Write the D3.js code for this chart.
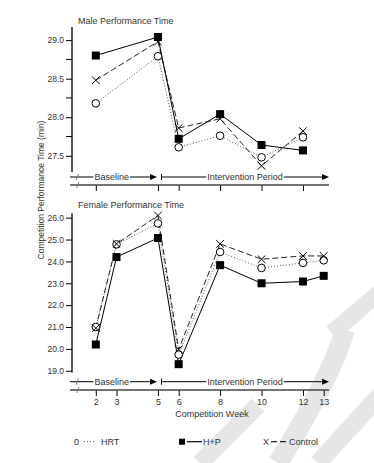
<!DOCTYPE html>
<html><head><meta charset="utf-8">
<script src="https://cdn.jsdelivr.net/npm/d3@7"></script>
<style>
html,body{margin:0;padding:0;background:#fff;}
text{font-family:"Liberation Sans",Arial,sans-serif;fill:#333;}
</style></head>
<body>
<svg id="c" width="374" height="463"></svg>
<script>
// ---- data ----
const maleWeeks = [2, 5, 6, 8, 10, 12];
const maleHRT = [28.18, 28.79, 27.61, 27.76, 27.48, 27.74];
const maleHP = [28.80, 29.04, 27.72, 28.04, 27.64, 27.57];
const maleControl = [28.48, 28.98, 27.86, 27.98, 27.37, 27.82];

const femaleWeeks = [2, 3, 5, 6, 8, 10, 12, 13];
const femaleHRT = [21.0, 24.78, 25.74, 19.74, 24.43, 23.70, 23.93, 24.05];
const femaleHP = [20.2, 24.2, 25.07, 19.3, 23.83, 23.0, 23.08, 23.34];
const femaleControl = [20.95, 24.8, 26.1, 19.97, 24.8, 24.1, 24.25, 24.25];

const maleMajorTicks = [27.5, 28.0, 28.5, 29.0];
const maleMinorTicks = [27.75, 28.25, 28.75];
const femaleTicks = [19, 20, 21, 22, 23, 24, 25, 26];

const seriesNames = ["HRT", "H+P", "Control"];
const legendSymbols = ["0", "■", "X"];
const periodLabels = ["Baseline", "Intervention Period"];

const svg = d3.select("#c");

// ---- watermark (light background shapes) ----
const wm = svg.append("g").attr("stroke", "#e6e6e6").attr("stroke-linecap", "butt").attr("fill", "none");
wm.append("line").attr("x1", 380).attr("y1", 292).attr("x2", 332).attr("y2", 333).attr("stroke-width", 17);
wm.append("path").attr("d", "M 345 330 Q 330 380 278 463").attr("stroke-width", 20);
wm.append("line").attr("x1", 380).attr("y1", 395).attr("x2", 318).attr("y2", 463).attr("stroke-width", 18);
wm.append("line").attr("x1", 200).attr("y1", 463).attr("x2", 258).attr("y2", 405).attr("stroke-width", 18);

// ---- x scale ----
const x = d3.scaleLinear().domain([2, 13]).range([95.8, 323.7]);

// ---- y scales ----
const yM = d3.scaleLinear().domain([27.29, 29.17]).range([172, 27]);
const yF = d3.scaleLinear().domain([18.92, 26.2]).range([372.5, 213.3]);

const axisX = 72;

function yAxis(scale, ticks, minor) {
  const g = svg.append("g").attr("transform", `translate(${axisX},0)`);
  g.call(d3.axisLeft(scale).tickValues(ticks).tickFormat(d3.format(".1f")).tickSize(6).tickPadding(2));
  g.select(".domain").remove();
  g.append("line").attr("x1", 0).attr("x2", 0)
    .attr("y1", scale.range()[1]).attr("y2", scale.range()[0])
    .attr("stroke", "#000").attr("stroke-width", 1.3);
  g.selectAll(".tick line").attr("stroke", "#000");
  g.selectAll(".tick text").attr("font-size", 8.5).attr("fill", "#333")
    .attr("font-family", "Liberation Sans, Arial, sans-serif");
  if (minor) {
    g.selectAll(".minor").data(minor).enter().append("line")
      .attr("x1", -6).attr("x2", 0)
      .attr("y1", d => scale(d)).attr("y2", d => scale(d))
      .attr("stroke", "#000");
  }
}
yAxis(yM, maleMajorTicks, maleMinorTicks);
yAxis(yF, femaleTicks, null);

// ---- bottom bands: period arrows + x axis ----
function bottom(arrowY, axisY, weeks, labels) {
  const g = svg.append("g");
  // period arrows
  g.append("line").attr("x1", 70).attr("x2", 152).attr("y1", arrowY).attr("y2", arrowY).attr("stroke", "#000").attr("stroke-width", 1);
  g.append("path").attr("d", `M157,${arrowY} L150,${arrowY - 3} L150,${arrowY + 3} Z`).attr("fill", "#000");
  g.append("line").attr("x1", 76).attr("x2", 78.5).attr("y1", arrowY + 3).attr("y2", arrowY - 3).attr("stroke", "#777");
  g.append("line").attr("x1", 161.5).attr("x2", 161.5).attr("y1", arrowY - 3).attr("y2", arrowY + 3).attr("stroke", "#000");
  g.append("line").attr("x1", 161.5).attr("x2", 324).attr("y1", arrowY).attr("y2", arrowY).attr("stroke", "#000");
  g.append("path").attr("d", `M329,${arrowY} L322,${arrowY - 3} L322,${arrowY + 3} Z`).attr("fill", "#000");
  const lab = [[periodLabels[0], 111.7], [periodLabels[1], 245]];
  lab.forEach(([t, cx]) => {
    const tx = g.append("text").attr("x", cx).attr("y", arrowY + 3).attr("text-anchor", "middle").attr("font-size", 9).text(t);
    const bb = tx.node().getBBox();
    g.insert("rect", "text").attr("x", bb.x - 1).attr("y", arrowY - 2).attr("width", bb.width + 2).attr("height", 4).attr("fill", "#fff");
  });
  // x axis
  const ax = g.append("g").attr("transform", `translate(0,${axisY})`);
  ax.call(d3.axisBottom(x).tickValues(weeks).tickSize(6).tickPadding(3).tickFormat(labels ? d3.format("d") : () => ""));
  ax.select(".domain").remove();
  ax.append("line").attr("x1", 70).attr("x2", 329).attr("y1", 0).attr("y2", 0).attr("stroke", "#444").attr("stroke-width", 1.5);
  ax.append("line").attr("x1", 76.5).attr("x2", 79).attr("y1", 3).attr("y2", -3).attr("stroke", "#777");
  ax.selectAll(".tick line").attr("stroke", "#000");
  ax.selectAll(".tick text").attr("font-size", 9).attr("fill", "#333").attr("font-family", "Liberation Sans, Arial, sans-serif");
}
bottom(177, 185, maleWeeks, false);
bottom(381.7, 390, femaleWeeks, true);

svg.append("text").attr("x", 212).attr("y", 416.5).attr("text-anchor", "middle").attr("font-size", 9).text("Competition Week");

// ---- titles ----
svg.append("text").attr("x", 78).attr("y", 24).attr("font-size", 9).text("Male Performance Time");
svg.append("text").attr("x", 78).attr("y", 208).attr("font-size", 9).text("Female Performance Time");
svg.append("text").attr("transform", "translate(44,190) rotate(-90)").attr("text-anchor", "middle")
  .attr("font-size", 8.5).text("Competition Performance Time (min)");

// ---- series ----
const styles = {
  HRT: { dash: "1,2", color: "#555", width: 1 },
  "H+P": { dash: null, color: "#000", width: 1 },
  Control: { dash: "6,3", color: "#222", width: 1 }
};

function drawMarker(g, type, cx, cy) {
  if (type === "HRT") {
    g.append("circle").attr("cx", cx).attr("cy", cy).attr("r", 3.8).attr("fill", "#fff").attr("stroke", "#000").attr("stroke-width", 1);
  } else if (type === "H+P") {
    g.append("rect").attr("x", cx - 4).attr("y", cy - 4).attr("width", 8).attr("height", 8).attr("fill", "#000");
  } else {
    const s = 3.8;
    g.append("path").attr("d", `M${cx - s},${cy - s}L${cx + s},${cy + s}M${cx - s},${cy + s}L${cx + s},${cy - s}`).attr("stroke", "#000").attr("stroke-width", 1).attr("fill", "none");
  }
}

function drawPanel(weeks, seriesArr, yScale) {
  const order = ["HRT", "Control", "H+P"];
  const g = svg.append("g");
  order.forEach(name => {
    const vals = seriesArr[name];
    const pts = weeks.map((w, i) => [w, vals[i]]);
    const line = d3.line().x(d => x(d[0])).y(d => yScale(d[1]));
    const st = styles[name];
    g.append("path").attr("d", line(pts)).attr("fill", "none").attr("stroke", st.color)
      .attr("stroke-width", st.width).attr("stroke-dasharray", st.dash);
  });
  order.forEach(name => {
    const vals = seriesArr[name];
    weeks.forEach((w, i) => drawMarker(g, name, x(w), yScale(vals[i])));
  });
}
drawPanel(maleWeeks, { HRT: maleHRT, "H+P": maleHP, Control: maleControl }, yM);
drawPanel(femaleWeeks, { HRT: femaleHRT, "H+P": femaleHP, Control: femaleControl }, yF);

// ---- legend ----
const lg = svg.append("g");
const legendY = 441.7;
const legendPos = [74, 179, 263];
seriesNames.forEach((name, i) => {
  const x0 = legendPos[i];
  const st = styles[name];
  if (name === "H+P") {
    lg.append("rect").attr("x", x0).attr("y", legendY - 3).attr("width", 6).attr("height", 6).attr("fill", "#000");
  } else {
    lg.append("text").attr("x", x0).attr("y", legendY + 3.5).attr("font-size", 9).text(legendSymbols[i]);
  }
  const lx0 = name === "HRT" ? 84 : (name === "H+P" ? 187 : 271);
  const lx1 = name === "HRT" ? 96 : (name === "H+P" ? 202 : 288);
  lg.append("line").attr("x1", lx0).attr("x2", lx1).attr("y1", legendY).attr("y2", legendY)
    .attr("stroke", st.color).attr("stroke-width", name === "HRT" ? 1 : 1.2)
    .attr("stroke-dasharray", name === "HRT" ? "1,2" : (name === "Control" ? "6,3" : null));
  lg.append("text").attr("x", lx1 + (name === "HRT" ? 5 : 1)).attr("y", legendY + 3.5).attr("font-size", 9).text(name);
});
</script>
</body></html>
